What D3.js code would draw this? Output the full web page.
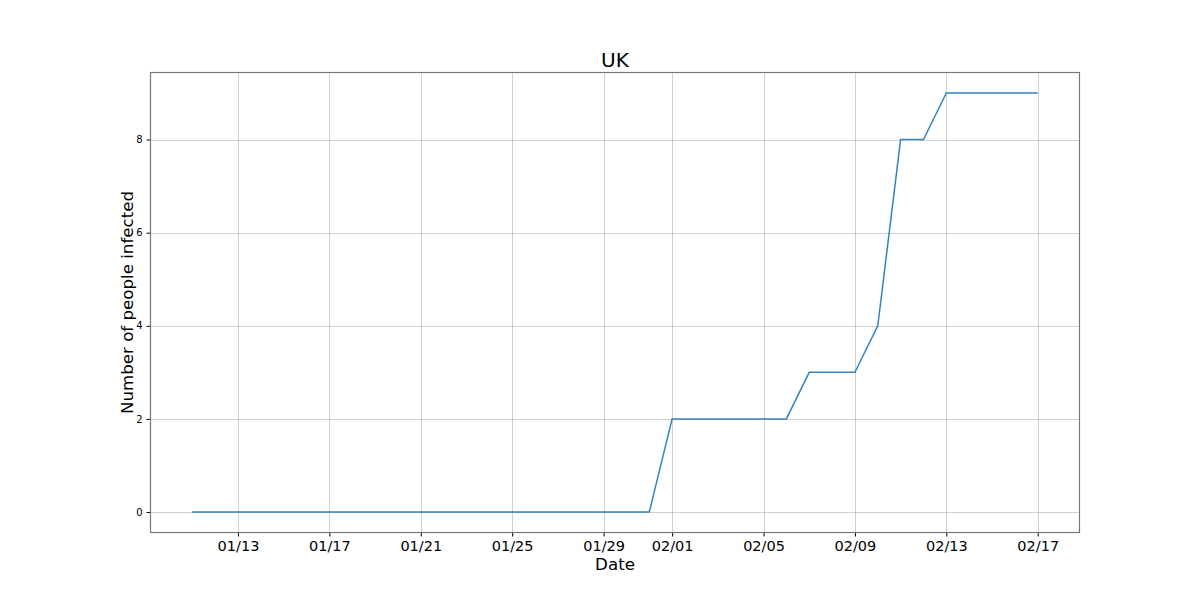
<!DOCTYPE html>
<html><head><meta charset="utf-8">
<script src="https://cdn.jsdelivr.net/npm/d3@7"></script>
<style>body{margin:0;background:#fff}svg{display:block;font-family:"DejaVu Sans",sans-serif}</style>
</head><body><svg id="c" width="1200" height="600"></svg>
<script>
const dates = ["2020-01-11","2020-01-12","2020-01-13","2020-01-14","2020-01-15","2020-01-16","2020-01-17","2020-01-18","2020-01-19","2020-01-20","2020-01-21","2020-01-22","2020-01-23","2020-01-24","2020-01-25","2020-01-26","2020-01-27","2020-01-28","2020-01-29","2020-01-30","2020-01-31","2020-02-01","2020-02-02","2020-02-03","2020-02-04","2020-02-05","2020-02-06","2020-02-07","2020-02-08","2020-02-09","2020-02-10","2020-02-11","2020-02-12","2020-02-13","2020-02-14","2020-02-15","2020-02-16","2020-02-17"];
const infected = [0,0,0,0,0,0,0,0,0,0,0,0,0,0,0,0,0,0,0,0,0,2,2,2,2,2,2,3,3,3,4,8,8,9,9,9,9,9];
const xTicks = ["2020-01-13","2020-01-17","2020-01-21","2020-01-25","2020-01-29","2020-02-01","2020-02-05","2020-02-09","2020-02-13","2020-02-17"];
const yTicks = [0,2,4,6,8];
const title = "UK", xLabel = "Date", yLabel = "Number of people infected";

const parse = d3.utcParse("%Y-%m-%d");
const data = dates.map((d,i)=>({t:parse(d), v:infected[i]}));
const L=150, R=1080, T=72, B=533;
const svg = d3.select("#c");
const t0 = data[0].t, t1 = data[data.length-1].t;
const span = t1 - t0;
const x = d3.scaleUtc().domain([new Date(+t0 - span*0.05), new Date(+t1 + span*0.05)]).range([L,R]);
const yMin = d3.min(infected), yMax = d3.max(infected), ys = yMax-yMin;
const y = d3.scaleLinear().domain([yMin-ys*0.05, yMax+ys*0.05]).range([B,T]);

// grid
const g = svg.append("g");
g.selectAll(".gx").data(xTicks.map(parse)).join("line")
  .attr("x1",d=>Math.round(x(d))+0.5).attr("x2",d=>Math.round(x(d))+0.5).attr("y1",T).attr("y2",B)
  .attr("stroke","#b0b0b0").attr("stroke-opacity",0.6).attr("stroke-width",1);
g.selectAll(".gy").data(yTicks).join("line")
  .attr("y1",d=>Math.round(y(d))+0.5).attr("y2",d=>Math.round(y(d))+0.5).attr("x1",L).attr("x2",R)
  .attr("stroke","#b0b0b0").attr("stroke-opacity",0.6).attr("stroke-width",1);

// line
svg.append("path").datum(data)
  .attr("d", d3.line().x(d=>x(d.t)).y(d=>y(d.v)))
  .attr("fill","none").attr("stroke","#1f77b4").attr("stroke-width",1.5).attr("stroke-opacity",0.9);

// axes
const xa = svg.append("g").attr("transform",`translate(0,${B})`)
  .call(d3.axisBottom(x).tickValues(xTicks.map(parse)).tickFormat(d3.utcFormat("%m/%d")).tickSizeOuter(0).tickSize(3.5).tickPadding(4));
xa.select(".domain").remove();
xa.selectAll("text").attr("font-size",14.5).attr("fill","#000").attr("font-family","DejaVu Sans");
xa.selectAll("line").attr("stroke","#000");
const ya = svg.append("g").attr("transform",`translate(${L},0)`)
  .call(d3.axisLeft(y).tickValues(yTicks).tickFormat(d3.format("d")).tickSizeOuter(0).tickSize(3.5).tickPadding(4));
ya.select(".domain").remove();
ya.selectAll("text").attr("font-size",10).attr("fill","#000").attr("font-family","DejaVu Sans");
ya.selectAll("line").attr("stroke","#000");

// frame
svg.append("rect").attr("x",L+0.5).attr("y",T+0.5).attr("width",R-L-1).attr("height",B-T-1)
  .attr("fill","none").attr("stroke","#777").attr("stroke-width",1.2);

svg.append("text").attr("x",(L+R)/2).attr("y",67).attr("text-anchor","middle").attr("font-size",20).text(title);
svg.append("text").attr("x",(L+R)/2).attr("y",570).attr("text-anchor","middle").attr("font-size",16.67).text(xLabel);
svg.append("text").attr("transform",`translate(133,${(T+B)/2}) rotate(-90)`).attr("text-anchor","middle").attr("font-size",16.67).text(yLabel);
</script></body></html>
